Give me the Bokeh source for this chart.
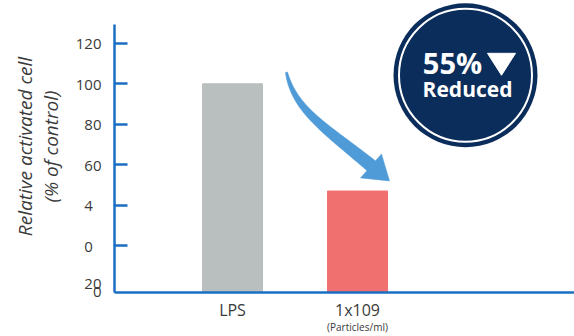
import numpy as np
from bokeh.plotting import figure
from bokeh.models import Range1d, FixedTicker, LinearAxis
from bokeh.core.properties import value
from bokeh.embed import file_html
from bokeh.resources import INLINE

# ---- data ----
categories = ["LPS", "1x109"]
cat_units = ["", "(Particles/ml)"]
cat_pos = [1, 2]
values = [100, 47]
bar_colors = ["#b9bfbe", "#f07070"]
y_grid_ticks = [20, 40, 60, 80, 100, 120]
y_label_pos = [1.3, -2.2, 20, 40, 60, 80, 100, 120]
y_tick_labels = ["20", "0", "0\u2007", "4\u2007", "60", "80", "100", "120"]
y_title = "Relative activated cell\n(% of control)"
badge_pct = "55%"
badge_word = "Reduced"

W, H = 574, 336
FL, FB = 114, 43          # frame left offset, bottom border
FW, FH = W - FL, H - FB   # frame size
PXU = 125.0               # px per x unit
x_start = 1 - (232 - FL) / PXU
x_end = x_start + FW / PXU
PYU = 2.03
y_end = 286.6 / PYU
y_start = y_end - FH / PYU

def dx(px):
    return x_start + (px - FL) / PXU

def dy(py):
    return y_end - py / PYU

FONT = "Open Sans"
AXIS_COLOR = "#1b6fc2"
TXT = "#3a3a3a"

p = figure(width=W, height=H, output_backend="svg", toolbar_location=None,
           x_range=Range1d(x_start, x_end), y_range=Range1d(y_start, y_end),
           min_border_left=FL, min_border_right=0, min_border_top=0,
           min_border_bottom=FB, outline_line_color=None)
p.grid.visible = False
p.background_fill_color = "white"

p.vbar(x=cat_pos, top=values, bottom=y_start, width=60 / PXU, color=bar_colors)

# y axis
ya = p.yaxis[0]
ya.ticker = FixedTicker(ticks=y_label_pos, minor_ticks=y_grid_ticks)
ya.major_label_overrides = {t: l for t, l in zip(y_label_pos, y_tick_labels)}
ya.bounds = (y_start, dy(24))
ya.major_tick_line_color = None
ya.major_tick_in = 0
ya.major_tick_out = 0
ya.minor_tick_in = 13
ya.minor_tick_out = 0
ya.minor_tick_line_color = AXIS_COLOR
ya.minor_tick_line_width = 2.5
ya.major_label_standoff = 13
ya.axis_label = y_title
ya.axis_label_standoff = 9
ya.axis_label_text_font = FONT
ya.axis_label_text_font_style = "italic"
ya.axis_label_text_font_size = "19px"
ya.axis_label_text_line_height = 1.0
ya.axis_label_text_color = TXT

xa = p.xaxis[0]
for ax in (xa, ya):
    ax.axis_line_color = AXIS_COLOR
    ax.axis_line_width = 2.5
    ax.major_label_text_font = FONT
    ax.major_label_text_color = TXT
ya.major_label_text_font_size = "15px"
xa.major_label_text_font_size = "16px"
xa.major_label_text_line_height = 1.0
xa.ticker = FixedTicker(ticks=cat_pos)
xa.major_label_overrides = {c: l for c, l in zip(cat_pos, categories)}
xa.major_tick_in = 0
xa.major_tick_out = 0
xa.minor_tick_line_color = None
xa.major_label_standoff = 6

# units line under the category labels
xa2 = LinearAxis(ticker=FixedTicker(ticks=cat_pos),
                 major_label_overrides={c: u for c, u in zip(cat_pos, cat_units)},
                 axis_line_color=None, major_tick_line_color=None, minor_tick_line_color=None,
                 major_tick_in=0, major_tick_out=0, major_label_standoff=-4,
                 major_label_text_font=FONT, major_label_text_font_size="10px",
                 major_label_text_line_height=1.0, major_label_text_color=TXT)
p.add_layout(xa2, "below")

# arrow
def bez(t, P):
    P = np.array(P, dtype=float)
    return ((1 - t) ** 3)[:, None] * P[0] + (3 * (1 - t) ** 2 * t)[:, None] * P[1] + \
        (3 * (1 - t) * t ** 2)[:, None] * P[2] + (t ** 3)[:, None] * P[3]

ctrl = [(286, 72), (294, 110), (325, 128), (371, 166)]
t = np.linspace(0, 1, 60)
pts = bez(t, ctrl)
d = np.gradient(pts, axis=0)
n = np.stack([-d[:, 1], d[:, 0]], axis=1)
n /= np.linalg.norm(n, axis=1)[:, None]
wdt = 1 + 5.5 * t ** 0.8
left = pts + n * wdt[:, None]
right = pts - n * wdt[:, None]
poly = np.vstack([left, right[::-1]])
ARROW = "#4f9bd8"
p.patch([dx(v) for v in poly[:, 0]], [dy(v) for v in poly[:, 1]], color=ARROW, line_width=0.5)
head = [(381, 154), (389, 181), (360, 178)]
p.patch([dx(a) for a, b in head], [dy(b) for a, b in head], color=ARROW, line_width=0.5)

# badge
NAVY = "#0b2d5b"
p.scatter([dx(465)], [dy(75)], size=144, marker="circle", fill_color=NAVY, line_color=None)
p.scatter([dx(465)], [dy(75)], size=133, marker="circle", fill_color=None,
          line_color="white", line_width=2)
p.text([dx(452)], [dy(62)], text=[badge_pct], text_align="center", text_baseline="middle",
       text_font=value(FONT), text_font_style="bold", text_font_size="29px", text_color="white")
tri = [(487, 53), (515, 53), (501, 75)]
p.patch([dx(a) for a, b in tri], [dy(b) for a, b in tri], color="white")
p.text([dx(467)], [dy(89)], text=[badge_word], text_align="center", text_baseline="middle",
       text_font=value(FONT), text_font_style="bold", text_font_size="21px", text_color="white")

open("out.html", "w").write(file_html(p, INLINE))
